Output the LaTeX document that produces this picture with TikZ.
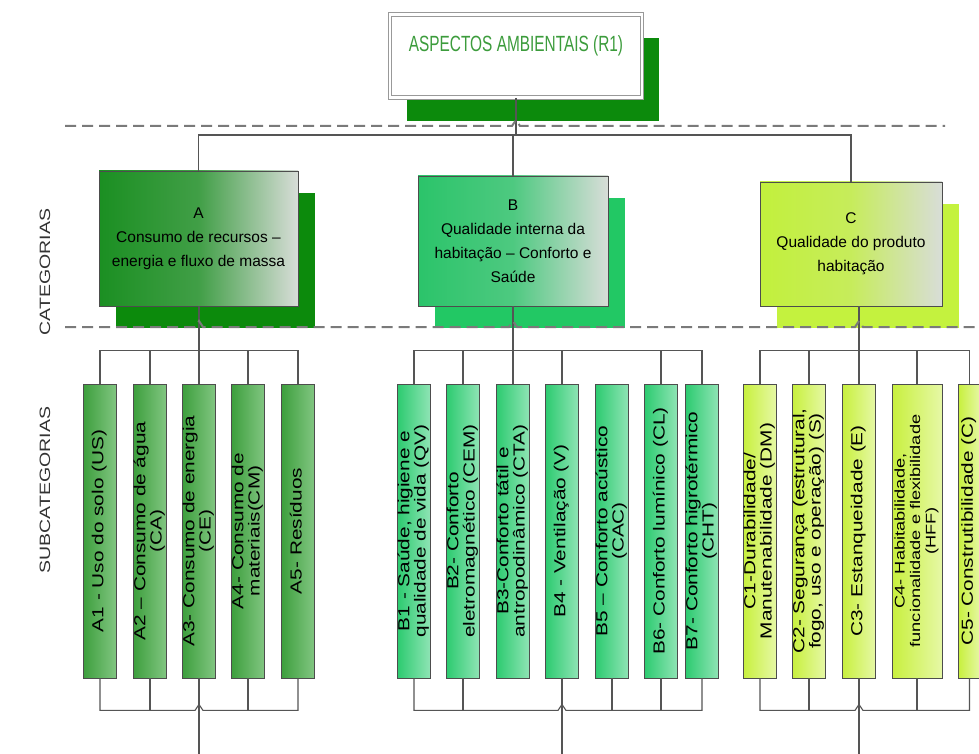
\documentclass[tikz,border=0pt]{standalone}
\usepackage{fontspec}
\setmainfont{Liberation Sans}
\newfontfamily\narrowsf{Liberation Sans}[FakeStretch=0.7,Ligatures=TeX]
\newfontfamily\widesf{Liberation Sans}[FakeStretch=1.3,Ligatures=TeX]
\usepackage{graphicx}
\usetikzlibrary{calc,shadows}
\definecolor{titlegreen}{HTML}{3C9C3C}
\definecolor{shA}{HTML}{0C8A0C}
\definecolor{shB}{HTML}{22C864}
\definecolor{shC}{HTML}{C4F23E}
\definecolor{cA}{HTML}{1B8F22}
\definecolor{cB}{HTML}{2BC46A}
\definecolor{cC}{HTML}{C2F03C}
\definecolor{fadegray}{HTML}{D8DDD8}
\definecolor{sA1}{HTML}{3D9F3D}
\definecolor{sA2}{HTML}{82C682}
\definecolor{sB1}{HTML}{2DCB70}
\definecolor{sB2}{HTML}{90E4B5}
\definecolor{sC1}{HTML}{C8F03E}
\definecolor{sC2}{HTML}{E6F8A6}
\definecolor{boxline}{HTML}{4D4D4D}
\definecolor{linegray}{HTML}{555555}
\definecolor{dashgray}{HTML}{7A7A7A}
\definecolor{sidegray}{HTML}{333333}
\def\vtext#1{\rotatebox{90}{\begin{tabular}{@{}c@{}}#1\end{tabular}}}

\begin{document}
\begin{tikzpicture}[x=1pt,y=-1pt,
    link/.style={draw=linegray,line width=1.1pt},
    sep/.style={draw=dashgray,line width=2pt,dash pattern=on 11pt off 6pt},
    titlebox/.style={draw=gray!80,double=white,double distance=2.5pt,line width=1pt,fill=white,
        minimum width=252pt,minimum height=83pt,text height=16pt,text depth=25pt,
        font=\narrowsf\fontsize{22}{24}\selectfont,text=titlegreen,
        drop shadow={shadow xshift=17pt,shadow yshift=-24pt,fill=shA,opacity=1}},
    catbox/.style={draw=boxline,line width=0.9pt,align=center,inner sep=0pt,
        font=\fontsize{15.5}{24}\selectfont,right color=fadegray},
    subbox/.style={draw=boxline,line width=0.8pt,minimum width=33pt,minimum height=294pt,
        inner sep=0pt,font=\widesf\fontsize{16}{15.5}\selectfont},
    subA/.style={subbox,left color=sA1,right color=sA2},
    subB/.style={subbox,left color=sB1,right color=sB2},
    subC/.style={subbox,left color=sC1,right color=sC2},
    sidelabel/.style={rotate=90,text=sidegray,font=\widesf\fontsize{15}{18}\selectfont}]

%%%%% START %%%%%
\useasboundingbox (0,0) rectangle (979,754);
\fill[white] (0,0) rectangle (979,754);
\clip (0,0) rectangle (979,754);

\node[sidelabel] (lblcat) at (45,272) {CATEGORIAS};
\node[sidelabel] (lblsub) at (45,490) {SUBCATEGORIAS};

%% level 0
\node[titlebox] (title) at (516,56) {ASPECTOS AMBIENTAIS (R1)};

%% categories
\node[catbox,left color=cA,middle color=cA!80!fadegray,minimum width=199pt,minimum height=135pt,
    drop shadow={shadow xshift=17pt,shadow yshift=-22pt,fill=shA,opacity=1}]
    (catA) at (198.5,238.5) {A\\Consumo de recursos –\\energia e fluxo de massa};
\node[catbox,left color=cB,middle color=cB!80!fadegray,minimum width=190pt,minimum height=130pt,
    drop shadow={shadow xshift=17pt,shadow yshift=-22pt,fill=shB,opacity=1}]
    (catB) at (513,241) {B\\Qualidade interna da\\habitação – Conforto e\\Saúde};
\node[catbox,left color=cC,middle color=cC!80!fadegray,minimum width=182pt,minimum height=124pt,
    drop shadow={shadow xshift=17pt,shadow yshift=-22pt,fill=shC,opacity=1}]
    (catC) at (851,244) {C\\Qualidade do produto\\habitação};

%% subcategories A
\node[subA] (A1) at (100,531) {\vtext{A1 - Uso do solo (US)}};
\node[subA] (A2) at (150,531) {\vtext{A2 – Consumo de água\\(CA)}};
\node[subA] (A3) at (199,531) {\vtext{A3- Consumo de energia\\(CE)}};
\node[subA] (A4) at (248,531) {\vtext{A4- Consumo de\\materiais(CM)}};
\node[subA] (A5) at (298,531) {\vtext{A5- Resíduos}};

%% subcategories B
\node[subB] (B1) at (414,531) {\vtext{B1 - Saúde, higiene e\\qualidade de vida (QV)}};
\node[subB] (B2) at (463,531) {\vtext{B2- Conforto\\eletromagnético (CEM)}};
\node[subB] (B3) at (513,531) {\vtext{B3-Conforto tátil e\\antropodinâmico (CTA)}};
\node[subB] (B4) at (562,531) {\vtext{B4 - Ventilação (V)}};
\node[subB] (B5) at (612,531) {\vtext{B5 – Conforto acústico\\(CAC)}};
\node[subB] (B6) at (661,531) {\vtext{B6- Conforto lumínico (CL)}};
\node[subB] (B7) at (702,531) {\vtext{B7- Conforto higrotérmico\\(CHT)}};

%% subcategories C
\node[subC] (C1) at (760,531) {\vtext{C1-Durabilidade/\\Manutenabilidade (DM)}};
\node[subC] (C2) at (809,531) {\vtext{C2- Segurança (estrutural,\\fogo, uso e operação) (S)}};
\node[subC] (C3) at (859,531) {\vtext{C3- Estanqueidade (E)}};
\node[subC,minimum width=50pt,font=\widesf\fontsize{14}{15.5}\selectfont] (C4) at (917,531)
    {\vtext{C4- Habitabilidade,\\funcionalidade e flexibilidade\\(HFF)}};
\node[subC,minimum width=22pt] (C5) at (969.5,531) {\vtext{C5- Construtibilidade (C)}};

%% top links
\coordinate (hub) at (516,135);
\draw[link] (title.south) -- (hub);
\draw[link] (catA.north) |- (hub) -| (catC.north);
\draw[link] (hub) -| (catB.north);

%% group A links
\draw[link] (catA.south -| A3.north) -- (A3.north);
\draw[link] (A1.north) -- ++(0,-33) -| (A5.north);
\foreach \s in {A2,A4} \draw[link] (\s.north) -- ++(0,-33);
\draw[link] (A1.south) -- ++(0,32) -- ($(A3.south)+(-4,32)$) -- ++(4,-6) -- ++(4,6) -| (A5.south);
\foreach \s in {A2,A4} \draw[link] (\s.south) -- ++(0,32);
\coordinate (outA) at (199,760);
\draw[link] (A3.south) -- (outA);

%% group B links
\draw[link] (catB.south -| B3.north) -- (B3.north);
\draw[link] (B1.north) -- ++(0,-33) -| (B7.north);
\foreach \s in {B2,B4,B6} \draw[link] (\s.north) -- ++(0,-33);
\draw[link] (B1.south) -- ++(0,32) -- ($(B4.south)+(-4,32)$) -- ++(4,-6) -- ++(4,6) -| (B7.south);
\foreach \s in {B2,B5,B6} \draw[link] (\s.south) -- ++(0,32);
\coordinate (outB) at (562,760);
\draw[link] (B4.south) -- (outB);

%% group C links
\draw[link] (catC.south -| C3.north) -- (C3.north);
\draw[link] (C1.north) -- ++(0,-33) -| (C5.north);
\foreach \s in {C2,C4} \draw[link] (\s.north) -- ++(0,-33);
\draw[link] (C1.south) -- ++(0,32) -- ($(C3.south)+(-4,32)$) -- ++(4,-6) -- ++(4,6) -| (C5.south);
\foreach \s in {C2,C4} \draw[link] (\s.south) -- ++(0,32);
\coordinate (outC) at (859,760);
\draw[link] (C3.south) -- (outC);

%% level separators
\draw[sep] (65,126) -- (512,126) -- ++(4,-6) -- ++(4,6) -- (945,126);
\draw[sep] (65,327) -- (195,327) -- ++(4,-6) -- ++(4,6) -- (509,327) -- ++(4,-6) -- ++(4,6)
    -- (855,327) -- ++(4,-6) -- ++(4,6) -- (979,327);
%%%%% END %%%%%
\end{tikzpicture}
\end{document}
